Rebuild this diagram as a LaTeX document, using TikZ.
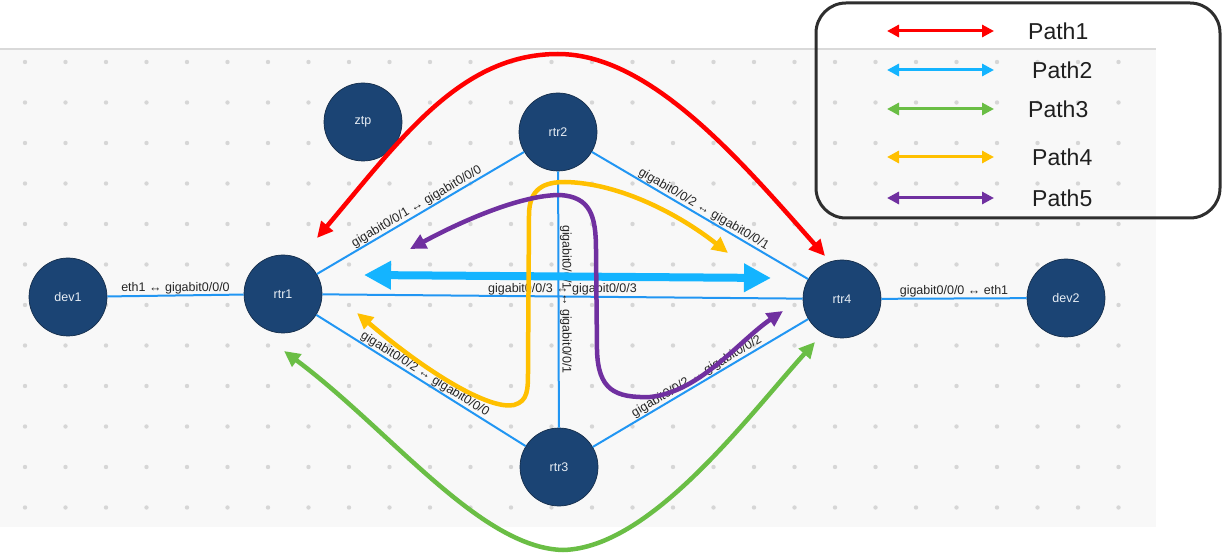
\documentclass[tikz,border=0pt]{standalone}
\usepackage{fontspec}
\setmainfont{Liberation Sans}
\usepackage{tikz}
\usetikzlibrary{arrows.meta}
\usepackage{xcolor}

\definecolor{nodeblue}{RGB}{27,68,116}
\definecolor{nodeedge}{RGB}{20,45,75}
\definecolor{linkblue}{RGB}{33,150,243}
\definecolor{panelgray}{RGB}{248,248,248}
\definecolor{dotgray}{RGB}{214,214,214}
\definecolor{pathred}{RGB}{255,0,0}
\definecolor{pathblue}{RGB}{20,180,255}
\definecolor{pathgreen}{RGB}{106,190,69}
\definecolor{pathyellow}{RGB}{255,192,0}
\definecolor{pathpurple}{RGB}{112,48,160}

\tikzset{
  router/.style={circle, fill=nodeblue, draw=nodeedge, line width=0.7pt,
    minimum size=78pt, inner sep=0pt, text={rgb,255:red,232;green,238;blue,245},
    font=\fontsize{12.5}{14}\selectfont},
  link/.style={draw=linkblue, line width=2pt},
  portlabel/.style={font=\fontsize{12.5}{14}\selectfont, text=black!85, inner sep=0.5pt},
  route/.style={line width=4.5pt, line cap=round,
    {Triangle[length=16pt,width=15pt]}-{Triangle[length=16pt,width=15pt]}},
  legendarrow/.style={line width=3pt,
    {Triangle[length=12pt,width=12pt]}-{Triangle[length=12pt,width=12pt]}}
}

\begin{document}
\begin{tikzpicture}[x=1pt,y=-1pt]
\useasboundingbox (0,0) rectangle (1224,553);
% canvas
\fill[panelgray] (0,49) rectangle (1156,527);
\draw[black!15, line width=1.5pt] (0,49) -- (1156,49);
\foreach \i in {0,...,27}
  \foreach \j in {0,...,11}
    \fill[dotgray] (25+40.5*\i, 62+40.5*\j) circle (2.2pt);

% devices
\node[router] (dev1) at (68,297) {dev1};
\node[router] (rtr1) at (283,294) {rtr1};
\node[router] (ztp) at (363,122) {ztp};
\node[router] (rtr2) at (558,132) {rtr2};
\node[router] (rtr3) at (559,467) {rtr3};
\node[router] (rtr4) at (842,299) {rtr4};
\node[router] (dev2) at (1066,298) {dev2};

% links
\draw[link] (dev1) -- node[portlabel, above] {eth1 ↔ gigabit0/0/0} (rtr1);
\draw[link] (rtr1) -- node[portlabel, above, sloped] {gigabit0/0/1 ↔ gigabit0/0/0} (rtr2);
\draw[link] (rtr2) -- node[portlabel, above, sloped] {gigabit0/0/2 ↔ gigabit0/0/1} (rtr4);
\draw[link] (rtr1) -- node[portlabel, above] {gigabit0/0/3 ↔ gigabit0/0/3} (rtr4);
\draw[link] (rtr2) -- node[portlabel, midway, rotate=-90, anchor=south] {gigabit0/0/1 ↔ gigabit0/0/1} (rtr3);
\draw[link] (rtr1) -- node[portlabel, above, sloped] {gigabit0/0/2 ↔ gigabit0/0/0} (rtr3);
\draw[link] (rtr3) -- node[portlabel, above, sloped] {gigabit0/0/2 ↔ gigabit0/0/2} (rtr4);
\draw[link] (rtr4) -- node[portlabel, above] {gigabit0/0/0 ↔ eth1} (dev2);

% paths
\draw[route, pathred] (317,238) .. controls (400,140) and (460,54) .. (558,54)
  .. controls (650,54) and (740,160) .. (825,256);
\draw[pathblue, line width=8pt,
  {Triangle[length=27pt,width=27pt]}-{Triangle[length=27pt,width=27pt]}] (364,275) -- (771,278);
\draw[route, pathgreen] (284,351) .. controls (390,430) and (480,548) .. (563,550)
  .. controls (650,548) and (745,420) .. (815,342);
\draw[route, pathyellow] (357,313) .. controls (430,375) and (490,410) .. (514,405)
  .. controls (528,401) and (528,390) .. (528,370) -- (529,215)
  .. controls (529,188) and (545,182) .. (565,182)
  .. controls (620,183) and (680,215) .. (728,253);
\draw[route, pathpurple] (410,249) .. controls (460,222) and (520,195) .. (560,195)
  .. controls (590,197) and (596,215) .. (596,250) -- (597,350)
  .. controls (598,390) and (615,398) .. (650,397)
  .. controls (700,392) and (740,340) .. (783,311);

% legend
\draw[black!82, line width=3pt, rounded corners=30pt] (816,3) rectangle (1220,218);
\foreach \col/\yy/\xx/\name in {pathred/31/1028/Path1, pathblue/70/1032/Path2,
    pathgreen/109/1028/Path3, pathyellow/157/1032/Path4, pathpurple/198/1032/Path5}{
  \draw[legendarrow, \col] (887,\yy) -- (994,\yy);
  \node[anchor=west, inner sep=0pt, text=black!88, font=\fontsize{23}{26}\selectfont] at (\xx,\yy) {\name};
}
\end{tikzpicture}
\end{document}
